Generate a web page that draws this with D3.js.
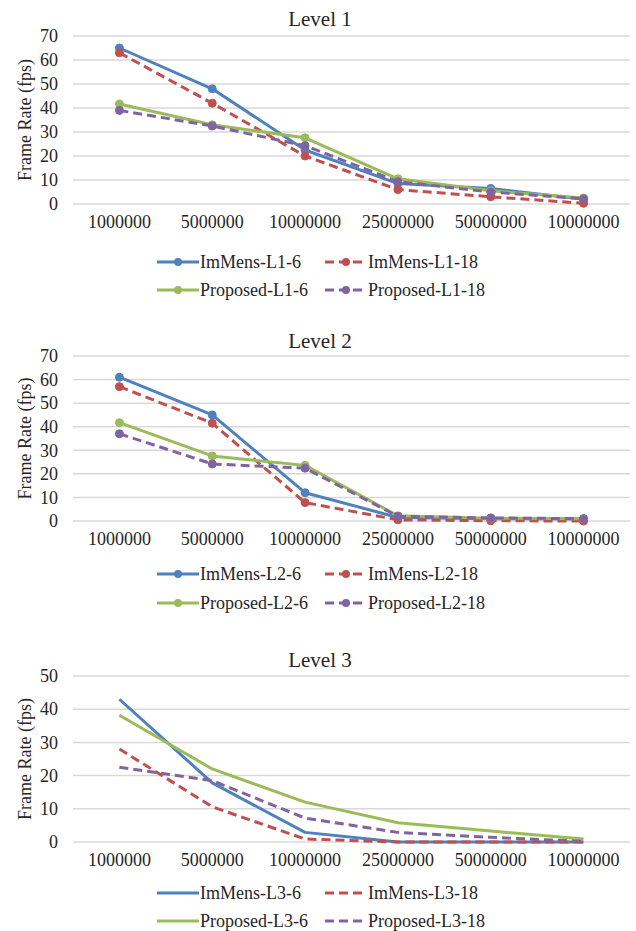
<!DOCTYPE html>
<html>
<head>
<meta charset="utf-8">
<script src="https://cdn.jsdelivr.net/npm/d3@7"></script>
<style>
  html, body { margin: 0; padding: 0; background: #fff; }
  svg { display: block; }
  svg text { font-family: "Liberation Serif", "Times New Roman", Times, "DejaVu Serif", serif !important; fill: #262626; }
</style>
</head>
<body>
<svg id="chart" width="636" height="931"></svg>
<script>
// ---------- data ----------
const categories = ["1000000", "5000000", "10000000", "25000000", "50000000", "10000000"];

const level1Names = ["ImMens-L1-6", "ImMens-L1-18", "Proposed-L1-6", "Proposed-L1-18"];
const level1ImMens6   = [65, 48, 22.5, 8.5, 6.5, 2];
const level1ImMens18  = [63, 42, 20, 6, 3, 0.3];
const level1Proposed6 = [41.7, 33, 27.6, 10.5, 5.5, 2.5];
const level1Proposed18= [39, 32.5, 24.3, 9.3, 5, 2.2];

const level2Names = ["ImMens-L2-6", "ImMens-L2-18", "Proposed-L2-6", "Proposed-L2-18"];
const level2ImMens6   = [61, 45, 12, 1.5, 1, 0.8];
const level2ImMens18  = [57, 41.5, 7.8, 0.5, 0.1, 0];
const level2Proposed6 = [41.7, 27.6, 23.6, 2.2, 1.2, 1];
const level2Proposed18= [37, 24.2, 22.4, 2, 1.3, 1];

const level3Names = ["ImMens-L3-6", "ImMens-L3-18", "Proposed-L3-6", "Proposed-L3-18"];
const level3ImMens6   = [43, 17.8, 2.9, 0, 0, 0];
const level3ImMens18  = [28, 10.6, 0.9, 0, 0, 0];
const level3Proposed6 = [38.2, 22, 12, 5.8, 3.3, 0.9];
const level3Proposed18= [22.5, 18.5, 7.2, 2.9, 1.4, 0.2];

const ticks70 = [0, 10, 20, 30, 40, 50, 60, 70];
const ticks50 = [0, 10, 20, 30, 40, 50];
const yTitle = "Frame Rate (fps)";

// ---------- styling ----------
const FONT = '"Liberation Serif", "Times New Roman", Times, "DejaVu Serif", serif';
const colors = ["#4F81BD", "#C0504D", "#9BBB59", "#8064A2"];
const dashed = [false, true, false, true];

const panels = [
  { title: "Level 1", names: level1Names, series: [level1ImMens6, level1ImMens18, level1Proposed6, level1Proposed18],
    ticks: ticks70, max: 70, top: 36, bottom: 204, titleY: 26, leg1: 262, leg2: 290, markers: true },
  { title: "Level 2", names: level2Names, series: [level2ImMens6, level2ImMens18, level2Proposed6, level2Proposed18],
    ticks: ticks70, max: 70, top: 356, bottom: 521, titleY: 348, leg1: 574, leg2: 603, markers: true },
  { title: "Level 3", names: level3Names, series: [level3ImMens6, level3ImMens18, level3Proposed6, level3Proposed18],
    ticks: ticks50, max: 50, top: 676, bottom: 842, titleY: 667, leg1: 893, leg2: 921, markers: false }
];

const svg = d3.select("#chart");
const left = 73, right = 630;

const x = d3.scaleBand().domain(d3.range(categories.length)).range([left, right]);

panels.forEach(p => {
  const g = svg.append("g");
  const y = d3.scaleLinear().domain([0, p.max]).range([p.bottom, p.top]);

  // gridlines
  g.append("g").selectAll("line").data(p.ticks).join("line")
    .attr("x1", left).attr("x2", right)
    .attr("y1", d => y(d)).attr("y2", d => y(d))
    .attr("stroke", "#d9d9d9").attr("stroke-width", 1.5);

  // y axis labels
  const yAxis = d3.axisLeft(y).tickValues(p.ticks).tickSize(0).tickPadding(0);
  const ya = g.append("g").attr("transform", `translate(58,0)`).call(yAxis)
    .attr("font-family", FONT);
  ya.select(".domain").remove();
  ya.selectAll("text").style("font-family", FONT).attr("font-size", 18).attr("fill", "#262626");

  // x axis labels
  const xAxis = d3.axisBottom(x).tickFormat(i => categories[i]).tickSize(0).tickPadding(0);
  const xa = g.append("g").attr("transform", `translate(0,${p.bottom + 11})`).call(xAxis)
    .attr("font-family", FONT);
  xa.select(".domain").remove();
  xa.selectAll("text").style("font-family", FONT).attr("font-size", 18).attr("fill", "#262626");

  // title
  g.append("text").attr("x", 320).attr("y", p.titleY).attr("text-anchor", "middle")
    .style("font-family", FONT).attr("font-size", 21).text(p.title);

  // y title
  g.append("text")
    .attr("transform", `translate(31,${(p.top + p.bottom) / 2}) rotate(-90)`)
    .style("font-family", FONT)
    .attr("text-anchor", "middle").attr("font-size", 18).text(yTitle);

  const line = d3.line().x((d, i) => x(i) + x.bandwidth() / 2).y(d => y(d));

  p.series.forEach((s, k) => {
    g.append("path").datum(s).attr("d", line)
      .attr("fill", "none").attr("stroke", colors[k]).attr("stroke-width", 3)
      .attr("stroke-dasharray", dashed[k] ? "9,5" : null)
      .attr("stroke-linejoin", "round");
    if (p.markers) {
      g.append("g").selectAll("circle").data(s).join("circle")
        .attr("cx", (d, i) => x(i) + x.bandwidth() / 2).attr("cy", d => y(d))
        .attr("r", 4).attr("fill", colors[k]).attr("stroke", colors[k]);
    }
  });

  // legend
  const legPos = [[157, p.leg1], [325, p.leg1], [157, p.leg2], [325, p.leg2]];
  p.names.forEach((name, k) => {
    const [lx, ly] = legPos[k];
    const lg = g.append("g").attr("transform", `translate(${lx},${ly})`);
    lg.append("line").attr("x1", 0).attr("x2", 42).attr("y1", 0).attr("y2", 0)
      .attr("stroke", colors[k]).attr("stroke-width", 3)
      .attr("stroke-dasharray", dashed[k] ? "9,5" : null);
    if (p.markers) {
      lg.append("circle").attr("cx", 21).attr("cy", 0).attr("r", 4).attr("fill", colors[k]);
    }
    lg.append("text").attr("x", 43).attr("y", 6).style("font-family", FONT)
      .attr("font-size", 18).text(name);
  });
});
</script>
</body>
</html>
